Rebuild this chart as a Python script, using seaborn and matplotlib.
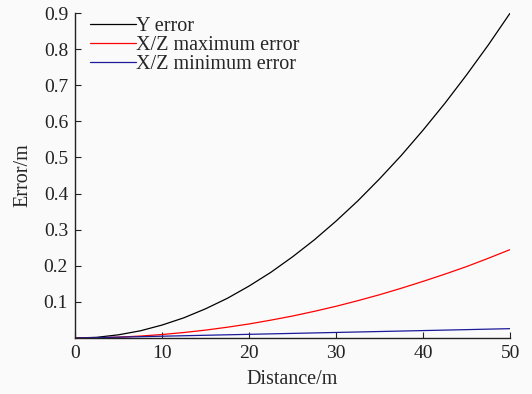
import matplotlib
matplotlib.use("Agg")
import matplotlib.pyplot as plt
import seaborn as sns
import pandas as pd

distance = [0, 2.5, 5, 7.5, 10, 12.5, 15, 17.5, 20, 22.5, 25, 27.5, 30, 32.5, 35, 37.5, 40, 42.5, 45, 47.5, 50]
y_error = [0, 0.002, 0.009, 0.020, 0.036, 0.056, 0.081, 0.110, 0.144, 0.182, 0.225, 0.272, 0.324, 0.380, 0.441, 0.506, 0.576, 0.650, 0.729, 0.812, 0.900]
xz_max = [0, 0.0006, 0.0025, 0.0055, 0.0098, 0.0153, 0.022, 0.030, 0.039, 0.0496, 0.061, 0.074, 0.088, 0.1035, 0.120, 0.138, 0.157, 0.177, 0.198, 0.221, 0.245]
xz_min = [0, 0.0012, 0.0025, 0.0038, 0.0051, 0.0064, 0.0077, 0.009, 0.0103, 0.0116, 0.0129, 0.0142, 0.0155, 0.0168, 0.0181, 0.0194, 0.0207, 0.022, 0.0233, 0.0247, 0.026]
series_names = ["Y error", "X/Z maximum error", "X/Z minimum error"]
colors = ["#000000", "#ff0000", "#1a1a9a"]
x_ticks = [0, 10, 20, 30, 40, 50]
y_ticks = [0.1, 0.2, 0.3, 0.4, 0.5, 0.6, 0.7, 0.8, 0.9]

sns.set_style("ticks")
plt.rcParams["font.family"] = ["Liberation Serif", "DejaVu Serif"]

df = pd.DataFrame({
    "Distance": distance * 3,
    "Error": y_error + xz_max + xz_min,
    "Series": [series_names[0]] * len(distance) + [series_names[1]] * len(distance) + [series_names[2]] * len(distance),
})

fig = plt.figure(figsize=(5.32, 3.94), dpi=100, facecolor="#fafafa")
ax = fig.add_axes([0.141, 0.142, 0.818, 0.825])
ax.set_facecolor("#fafafa")
sns.lineplot(data=df, x="Distance", y="Error", hue="Series", palette=colors,
             hue_order=series_names, linewidth=0.9, ax=ax, legend=True)

ax.set_xlim(0, 50)
ax.set_ylim(0, 0.9)
ax.set_xticks(x_ticks)
ax.set_xticklabels([str(t) for t in x_ticks])
ax.set_yticks(y_ticks)
ax.set_yticklabels([f"{t:.1f}" for t in y_ticks])
ax.tick_params(direction="in", length=4, width=0.8, labelsize=14, colors="#222222", pad=5)
for s in ["top", "right"]:
    ax.spines[s].set_visible(False)
for s in ["left", "bottom"]:
    ax.spines[s].set_linewidth(1.0)
    ax.spines[s].set_color("#222222")
ax.set_xlabel("Distance/m", fontsize=14.5, labelpad=6)
ax.set_ylabel("Error/m", fontsize=14.5, labelpad=8)
leg = ax.legend(loc="upper left", frameon=False, fontsize=14.5, handlelength=2.3,
                handletextpad=0.0, labelspacing=0.0, borderaxespad=0.0,
                bbox_to_anchor=(0.015, 1.012))
fig.savefig("out.png", dpi=100, facecolor=fig.get_facecolor())
